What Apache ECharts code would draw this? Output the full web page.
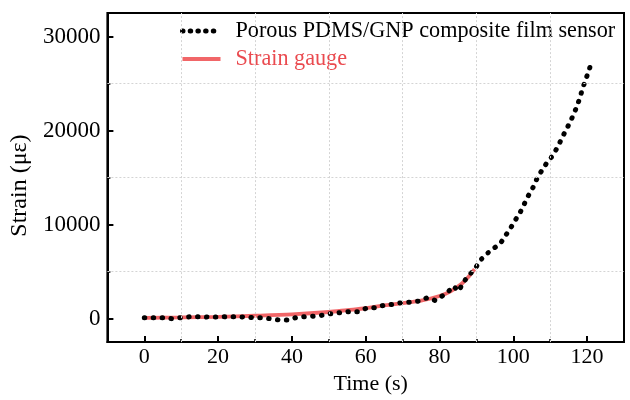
<!DOCTYPE html>
<html><head><meta charset="utf-8">
<script src="https://cdn.jsdelivr.net/npm/echarts@6/dist/echarts.min.js"></script>
<style>html,body{margin:0;padding:0;background:#fff}#c{width:630px;height:400px}</style>
</head><body><div id="c"></div>
<script>
// ---- data ----
const sensorName = 'Porous PDMS/GNP composite film sensor';
const gaugeName = 'Strain gauge';
const sensorTime = [0,2.5,5,7.5,10,12.5,15,17.5,20,22.5,25,27.5,30,32,34,36.5,39,41,43.5,46,48,50.5,53,55.5,58,60.5,63,65,67.2,69.7,72,74.3,76.7,78.8,81.1,82.8,83.7,85.3,86.2,87.8,89.8,91,92.6,94.6,96.5,97.8,99.2,100.5,101.9,103,104.1,105.3,106.3,107.5,108.9,110.5,111.9,113,114.1,115.2,116.2,117.2,118,118.7,119.5,120.4,121.2];
const sensorStrain = [95,95,95,-10,95,200,200,160,160,200,200,160,95,95,-10,-150,-150,95,200,265,340,520,630,730,730,1160,1160,1435,1510,1690,1750,1860,2220,1930,2500,3030,3450,2920,3740,4520,5400,6180,6820,7450,7990,8770,9590,10440,11320,12210,13090,13910,14790,15610,16460,17240,18160,19040,19930,20740,21590,22520,23430,24360,25310,26270,27300];
const gaugeTime = [0,10,20,30,40,50,55,60,65,70,75,80,83,86,88,89.5];
const gaugeStrain = [80,120,180,300,450,700,900,1100,1400,1650,1900,2400,2900,3700,4500,5250];
const xMajorTicks = [0,20,40,60,80,100,120];
const xMinorTicks = [10,30,50,70,90,110];
const yMajorTicks = [0,10000,20000,30000];
const yMinorTicks = [5000,15000,25000];
const xRange = [-10,130];
const yRange = [-2500,32500];

const FONT = '"Liberation Serif","Times New Roman",serif';
const zip = (a,b) => a.map((v,i)=>[v,b[i]]);
const plain = v => String(v);

const chart = echarts.init(document.getElementById('c'), null, {renderer:'canvas'});
const baseAxis = (extra) => Object.assign({
  type:'value',
  splitLine:{show:false},
  axisLine:{show:true, onZero:false, lineStyle:{color:'#000', width:2}},
}, extra);

chart.setOption({
  animation:false,
  backgroundColor:'#fff',
  grid:{left:107, right:6, top:13, bottom:57, show:true, borderColor:'#000', borderWidth:2, backgroundColor:'transparent'},
  legend:{
    orient:'vertical', left:175, top:15, itemWidth:38, itemHeight:14, itemGap:6,
    itemStyle:{opacity:0, borderWidth:0},
    textStyle:{fontFamily:FONT, fontSize:22.2, color:'#000', padding:[0,0,0,10]},
    data:[{name:sensorName, lineStyle:{type:[0.5,7.2], width:5, cap:'round'}},
          {name:gaugeName, lineStyle:{width:3.8}, textStyle:{color:'#ea4a4f'}}]
  },
  xAxis:[
    baseAxis({min:xRange[0], max:xRange[1], position:'bottom',
      name:'Time (s)', nameLocation:'middle', nameGap:26,
      nameTextStyle:{fontFamily:FONT, fontSize:22, color:'#000', padding:[0,0,0,10]},
      axisTick:{show:true, inside:true, length:6, customValues:xMajorTicks, lineStyle:{color:'#000', width:2}},
      axisLabel:{show:true, customValues:xMajorTicks, formatter:plain, margin:4, fontFamily:FONT, fontSize:22, color:'#000'}}),
    baseAxis({min:xRange[0], max:xRange[1], position:'bottom',
      axisLine:{show:false, onZero:false},
      axisTick:{show:true, inside:true, length:3, customValues:xMinorTicks, lineStyle:{color:'#000', width:1.5}},
      axisLabel:{show:false}})
  ],
  yAxis:[
    baseAxis({min:yRange[0], max:yRange[1], position:'left',
      name:'Strain (με)', nameLocation:'middle', nameGap:74,
      nameTextStyle:{fontFamily:FONT, fontSize:24, color:'#000', padding:[0,16,0,0]},
      axisTick:{show:true, inside:true, length:6, customValues:yMajorTicks, lineStyle:{color:'#000', width:2}},
      axisLabel:{show:true, customValues:yMajorTicks, formatter:plain, margin:7, fontFamily:FONT, fontSize:23, color:'#000'}}),
    baseAxis({min:yRange[0], max:yRange[1], position:'left',
      axisLine:{show:false, onZero:false},
      axisTick:{show:true, inside:true, length:3, customValues:yMinorTicks, lineStyle:{color:'#000', width:1.5}},
      axisLabel:{show:false}})
  ],
  series:[
    {type:'line', data:[], z:1, silent:true,
     markLine:{silent:true, symbol:['none','none'], label:{show:false},
       lineStyle:{color:'#d4d4d4', type:[2,2], width:1},
       data: xMinorTicks.map(v=>({xAxis:v})).concat(yMinorTicks.map(v=>({yAxis:v})))}},
    {type:'line', name:gaugeName, data:zip(gaugeTime,gaugeStrain), symbol:'none', smooth:0.3, z:3,
     lineStyle:{color:'#ef5558', width:3.8, opacity:0.9}, itemStyle:{color:'#ef5558'}},
    {type:'line', name:sensorName, data:zip(sensorTime,sensorStrain), symbol:'none', z:4,
     lineStyle:{color:'#000', width:5, type:[0.5,8.4], cap:'round'}, itemStyle:{color:'#000'}}
  ]
});
</script></body></html>
